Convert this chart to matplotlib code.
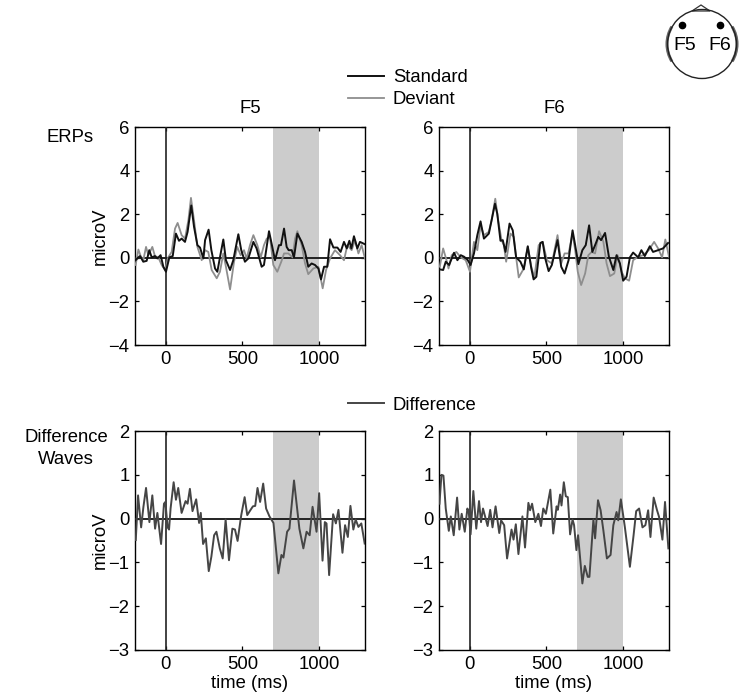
import matplotlib
matplotlib.use('Agg')
import matplotlib.pyplot as plt
from matplotlib.patches import Circle, Polygon, Arc

plt.rcParams['font.family'] = ['Liberation Sans', 'DejaVu Sans']
plt.rcParams['font.size'] = 13.3
plt.rcParams['lines.solid_joinstyle'] = 'round'

# F5 ERPs
f5_std_t = [-196, -178, -167, -146, -124, -107, -91, -70, -54, -33, -15, 2, 24, 46, 67, 87, 104, 126, 143, 167, 185, 207, 224, 246, 257, 280, 298, 322, 337, 354, 376, 393, 420, 441, 474, 493, 517, 539, 572, 593, 626, 641, 674, 691, 713, 739, 752, 772, 789, 802, 822, 837, 859, 887, 909, 930, 952, 974, 996, 1013, 1033, 1054, 1072, 1094, 1120, 1141, 1163, 1181, 1198, 1211, 1228, 1250, 1267, 1300]
f5_std_v = [-.11, .02, .08, -.18, -.14, .35, .02, .08, -.03, .12, -.41, -.64, .02, .08, 1.11, .78, .88, .73, 1.19, 2.40, 1.42, .58, .47, -.03, .81, 1.29, .35, -.49, -.64, .02, .84, -.11, -.56, -.11, 1.08, .35, -.18, -.03, .73, .43, -.41, -.33, 1.22, .65, -.11, .58, .58, 1.34, .50, .35, .35, .02, 1.11, .73, .27, -.41, -.26, -.33, -.49, -.99, -.41, -.41, .85, .47, .47, .27, .73, .43, .78, .43, .99, .43, .73, .62]
f5_dev_t = [-196, -178, -163, -146, -128, -113, -87, -70, -48, -26, -4, 17, 39, 61, 78, 104, 126, 148, 165, 185, 207, 235, 257, 278, 300, 333, 354, 376, 393, 420, 446, 467, 489, 511, 528, 550, 572, 598, 620, 641, 659, 680, 702, 728, 754, 772, 800, 828, 844, 859, 887, 909, 930, 963, 996, 1024, 1046, 1072, 1104, 1137, 1163, 1185, 1213, 1235, 1257, 1278, 1300]
f5_dev_v = [-.33, .38, .08, -.11, .50, .12, .50, .08, .02, -.33, -.56, .02, .27, 1.34, 1.60, 1.04, .88, 1.72, 2.75, 1.72, .50, -.11, .35, .27, -.56, -.94, -.64, .20, -.41, -1.45, -.18, .50, .12, .35, -.03, .58, 1.04, .58, .02, .58, .88, .96, -.33, -.64, -.18, .20, .20, .02, .88, 1.22, .58, -.26, -.75, -.49, -.41, -1.40, -.56, -.03, .35, .12, -.11, .58, .35, .81, .20, .58, -.03]

# F6 ERPs
f6_std_t = [-195, -173, -156, -134, -117, -102, -80, -58, -37, -15, 6, 28, 50, 71, 93, 125, 143, 165, 180, 201, 216, 234, 260, 281, 303, 331, 353, 379, 402, 417, 435, 461, 476, 493, 515, 536, 573, 597, 619, 645, 671, 688, 709, 735, 757, 779, 800, 818, 839, 857, 883, 908, 937, 958, 980, 1001, 1023, 1045, 1066, 1099, 1120, 1142, 1175, 1196, 1229, 1261, 1294]
f6_std_v = [-.53, -.56, -.18, -.33, -.03, .23, -.11, .12, .05, -.08, -.33, .20, 1.04, 1.67, .88, 1.11, 1.72, 2.48, 2.02, .78, .81, .27, 1.57, 1.26, .02, -.18, -.53, .53, -.49, -.99, -.87, .68, .73, -.03, -.61, -.33, .81, -.41, -.72, -.11, 1.26, .58, -.29, .35, .58, 1.49, .27, .58, .96, .81, 1.14, .05, -.56, .12, -.26, -1.05, -.87, .02, .24, .02, .35, .08, .53, .27, .35, .43, .68]
f6_dev_t = [-195, -173, -151, -138, -117, -87, -58, -26, 2, 28, 50, 71, 93, 125, 143, 167, 186, 208, 223, 238, 266, 288, 303, 320, 353, 379, 402, 422, 450, 476, 504, 536, 573, 597, 619, 645, 671, 688, 705, 727, 753, 774, 796, 818, 844, 872, 893, 915, 943, 965, 991, 1012, 1040, 1066, 1099, 1131, 1168, 1203, 1229, 1255, 1276, 1300]
f6_dev_v = [-.41, .43, -.11, -.49, .12, .27, .02, -.11, -.64, .73, .35, 1.49, 1.04, 1.19, 1.72, 2.71, 1.72, .81, .58, -.18, 1.11, .96, .02, -.90, -.49, .50, -.41, -.90, .58, .73, -.11, -.26, 1.04, -.26, .20, .20, 1.11, .35, -.64, -1.25, -.72, .12, .27, .20, 1.22, .73, -.26, -.84, -.72, .12, -.64, -.94, -1.05, -.11, .05, .12, .35, .73, .43, .02, .84, .05]

# difference waves
f5_diff_t = [-195, -180, -160, -145, -128, -106, -87, -69, -54, -30, -11, -2, 13, 22, 32, 52, 67, 82, 104, 130, 143, 158, 175, 199, 218, 229, 244, 262, 281, 298, 316, 331, 353, 372, 391, 413, 435, 452, 469, 493, 515, 532, 552, 569, 584, 599, 616, 636, 655, 677, 703, 735, 755, 768, 792, 807, 837, 872, 898, 919, 939, 958, 984, 1001, 1023, 1038, 1049, 1066, 1092, 1110, 1127, 1153, 1170, 1188, 1205, 1224, 1239, 1257, 1276, 1298]
f5_diff_v = [-.49, .53, -.20, .27, .70, -.08, .53, -.23, .13, -.58, .34, .38, -.20, -.25, .23, .83, .43, .70, .13, .40, .34, .68, .17, .44, -.10, .13, -.58, -.45, -1.20, -.87, -.38, -.30, -.68, -.91, -.02, -.95, -.23, -.25, -.51, .08, .49, .08, .19, .28, .29, .70, .38, .80, .23, .05, -.10, -1.25, -.83, -.89, -.30, -.23, .87, -.23, -.68, -.30, -.38, .27, -.30, .58, -.96, -.08, -.11, -1.29, .10, -.11, .20, -.78, -.15, -.42, .29, -.25, -.02, -.19, -.11, -.57]
f6_diff_t = [-197, -184, -171, -156, -136, -123, -104, -82, -67, -52, -32, -15, -6, 6, 24, 43, 61, 74, 87, 117, 134, 149, 169, 193, 205, 225, 244, 273, 286, 301, 318, 344, 361, 383, 394, 407, 428, 448, 465, 480, 497, 526, 545, 567, 575, 590, 599, 614, 627, 640, 655, 671, 681, 696, 707, 735, 751, 770, 781, 807, 818, 837, 854, 872, 895, 919, 937, 958, 969, 986, 1012, 1045, 1069, 1086, 1105, 1127, 1146, 1164, 1179, 1200, 1222, 1235, 1257, 1274, 1296]
f6_diff_v = [.34, 1.00, .98, .23, -.28, .05, -.38, .48, -.25, .11, -.30, .23, .15, -.36, .63, -.23, .40, -.08, .23, -.17, .20, -.20, .28, -.33, -.04, -.15, -.91, -.25, -.48, -.13, -.81, .05, -.66, .36, .19, .34, -.08, .11, -.17, .23, .11, .66, -.34, .28, .20, .55, .30, .83, .51, .49, -.36, -.02, -.15, -.72, -.38, -1.48, -1.08, -1.33, -1.33, -.02, -.45, .42, .19, -.27, -.91, -.83, -.15, .15, -.04, .44, -.19, -1.10, -.38, .17, .23, -.20, -.15, .19, -.42, .48, .19, .04, -.48, .38, -.68]

xticks = [0, 500, 1000]
erp_yticks = [-4, -2, 0, 2, 4, 6]
diff_yticks = [-3, -2, -1, 0, 1, 2]
window = (700, 1000)

W, H = 750, 700
C_STD = '#111111'
C_DEV = '#8e8e8e'
C_DIFF = '#454545'


def make_axes(fig, left, top, right, bottom, ylim, yticks):
    ax = fig.add_axes([left / W, 1 - bottom / H, (right - left) / W, (bottom - top) / H])
    ax.axvspan(window[0], window[1], color='#cccccc', lw=0, zorder=0)
    ax.set_xlim(-200, 1300)
    ax.set_ylim(*ylim)
    ax.set_xticks(xticks)
    ax.set_yticks(yticks)
    ax.tick_params(direction='in', top=True, right=True, length=3, width=0.9, labelsize=13.3, pad=4)
    for s in ax.spines.values():
        s.set_linewidth(1.0)
    return ax


def add_refs(ax):
    ax.axhline(0, color='#222222', lw=1.4, zorder=3)
    ax.axvline(0, color='#222222', lw=1.2, zorder=3)


fig = plt.figure(figsize=(7.5, 7), dpi=100)

ax1 = make_axes(fig, 135, 127, 365, 345, (-4, 6), erp_yticks)
ax1.plot(f5_dev_t, f5_dev_v, color=C_DEV, lw=1.3, zorder=4)
ax1.plot(f5_std_t, f5_std_v, color=C_STD, lw=1.4, zorder=5)
add_refs(ax1)
ax1.set_ylabel('microV', labelpad=0)
ax1.set_title('F5', fontsize=13.3, pad=10)

ax2 = make_axes(fig, 439, 127, 669, 345, (-4, 6), erp_yticks)
ax2.plot(f6_dev_t, f6_dev_v, color=C_DEV, lw=1.3, zorder=4)
ax2.plot(f6_std_t, f6_std_v, color=C_STD, lw=1.4, zorder=5)
add_refs(ax2)
ax2.set_title('F6', fontsize=13.3, pad=10)

ax3 = make_axes(fig, 135, 431, 365, 650, (-3, 2), diff_yticks)
ax3.plot(f5_diff_t, f5_diff_v, color=C_DIFF, lw=1.4, zorder=4)
add_refs(ax3)
ax3.set_ylabel('microV', labelpad=0)
ax3.set_xlabel('time (ms)', labelpad=2)

ax4 = make_axes(fig, 439, 431, 669, 650, (-3, 2), diff_yticks)
ax4.plot(f6_diff_t, f6_diff_v, color=C_DIFF, lw=1.4, zorder=4)
add_refs(ax4)
ax4.set_xlabel('time (ms)', labelpad=2)

# overlay in pixel coordinates for legends, row labels and the head sketch
ov = fig.add_axes([0, 0, 1, 1], facecolor='none')
ov.set_xlim(0, W)
ov.set_ylim(H, 0)
ov.axis('off')

ov.plot([348, 384], [76, 76], color=C_STD, lw=1.4)
ov.plot([348, 384], [98, 98], color=C_DEV, lw=1.3)
ov.plot([348, 384], [403, 403], color=C_DIFF, lw=1.4)
ov.text(393, 78, 'Standard', va='center')
ov.text(393, 100, 'Deviant', va='center')
ov.text(393, 405, 'Difference', va='center')
ov.text(47, 138, 'ERPs', va='center')
ov.text(66, 437, 'Difference', va='center', ha='center')
ov.text(66, 459, 'Waves', va='center', ha='center')

ov.add_patch(Arc((702, 44), 70, 68, theta1=150, theta2=210, color='#666666', lw=2.2))
ov.add_patch(Arc((702, 44), 70, 68, theta1=-30, theta2=30, color='#666666', lw=2.2))
ov.add_patch(Polygon([[692, 11], [701, 5], [710, 11]], closed=True, fc='white', ec='#333333', lw=0.9))
ov.add_patch(Circle((702, 44), 34.5, fc='none', ec='#222222', lw=1.0))
ov.plot([682, 720], [25, 25], 'o', color='black', ms=4.5)
ov.text(685, 46, 'F5', ha='center', va='center', fontsize=14)
ov.text(720, 46, 'F6', ha='center', va='center', fontsize=14)

fig.savefig('out.png', dpi=100)
